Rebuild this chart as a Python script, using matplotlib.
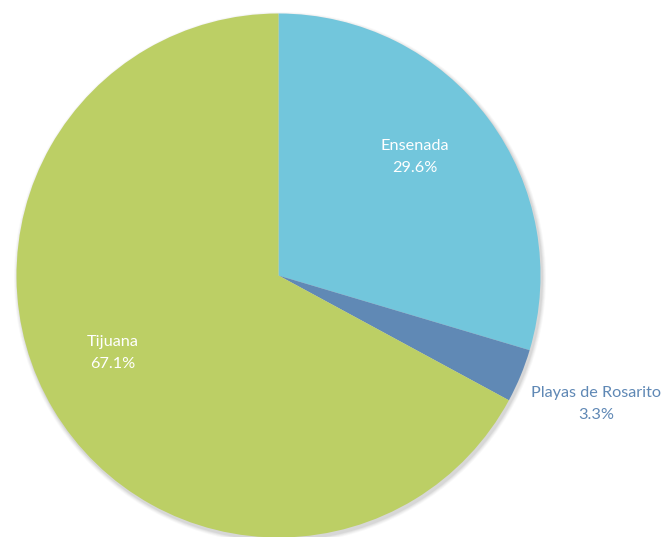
import matplotlib
matplotlib.use("Agg")
import matplotlib.pyplot as plt
from matplotlib.patches import Circle

# data
labels = ["Ensenada", "Playas de Rosarito", "Tijuana"]
shares = [29.6, 3.3, 67.1]
colors = ["#72C6DC", "#6089B5", "#BCCF65"]

W, H = 666, 537
fig = plt.figure(figsize=(W / 100, H / 100), dpi=100)
ax = fig.add_axes([0, 0, 1, 1])

cx, cy, r = 278.5, H - 275.5, 262

# soft shadow under the pie
for i, a in enumerate([0.05, 0.07, 0.09, 0.12]):
    ax.add_patch(Circle((cx + 1.5, cy - 2.5), r + 4 - i, color="#808080", alpha=a, lw=0, zorder=0))

ax.pie(shares, colors=colors, startangle=90, counterclock=False, center=(cx, cy), radius=r,
       wedgeprops=dict(linewidth=0), frame=True)
ax.set_xlim(0, W)
ax.set_ylim(0, H)
ax.set_aspect("equal")
ax.axis("off")

font = "Lato"
# label positions (pixels, top-left origin)
label_pos = [(415, 157), (596, 404), (113, 353)]
label_col = ["white", "#5F88B5", "white"]
for name, val, (x, y), c in zip(labels, shares, label_pos, label_col):
    ax.text(x, H - y, f"{name}\n{val:.1f}%", ha="center", va="center", color=c,
            fontsize=11.7, family=font, linespacing=1.65)

fig.savefig("out.png", dpi=100)
